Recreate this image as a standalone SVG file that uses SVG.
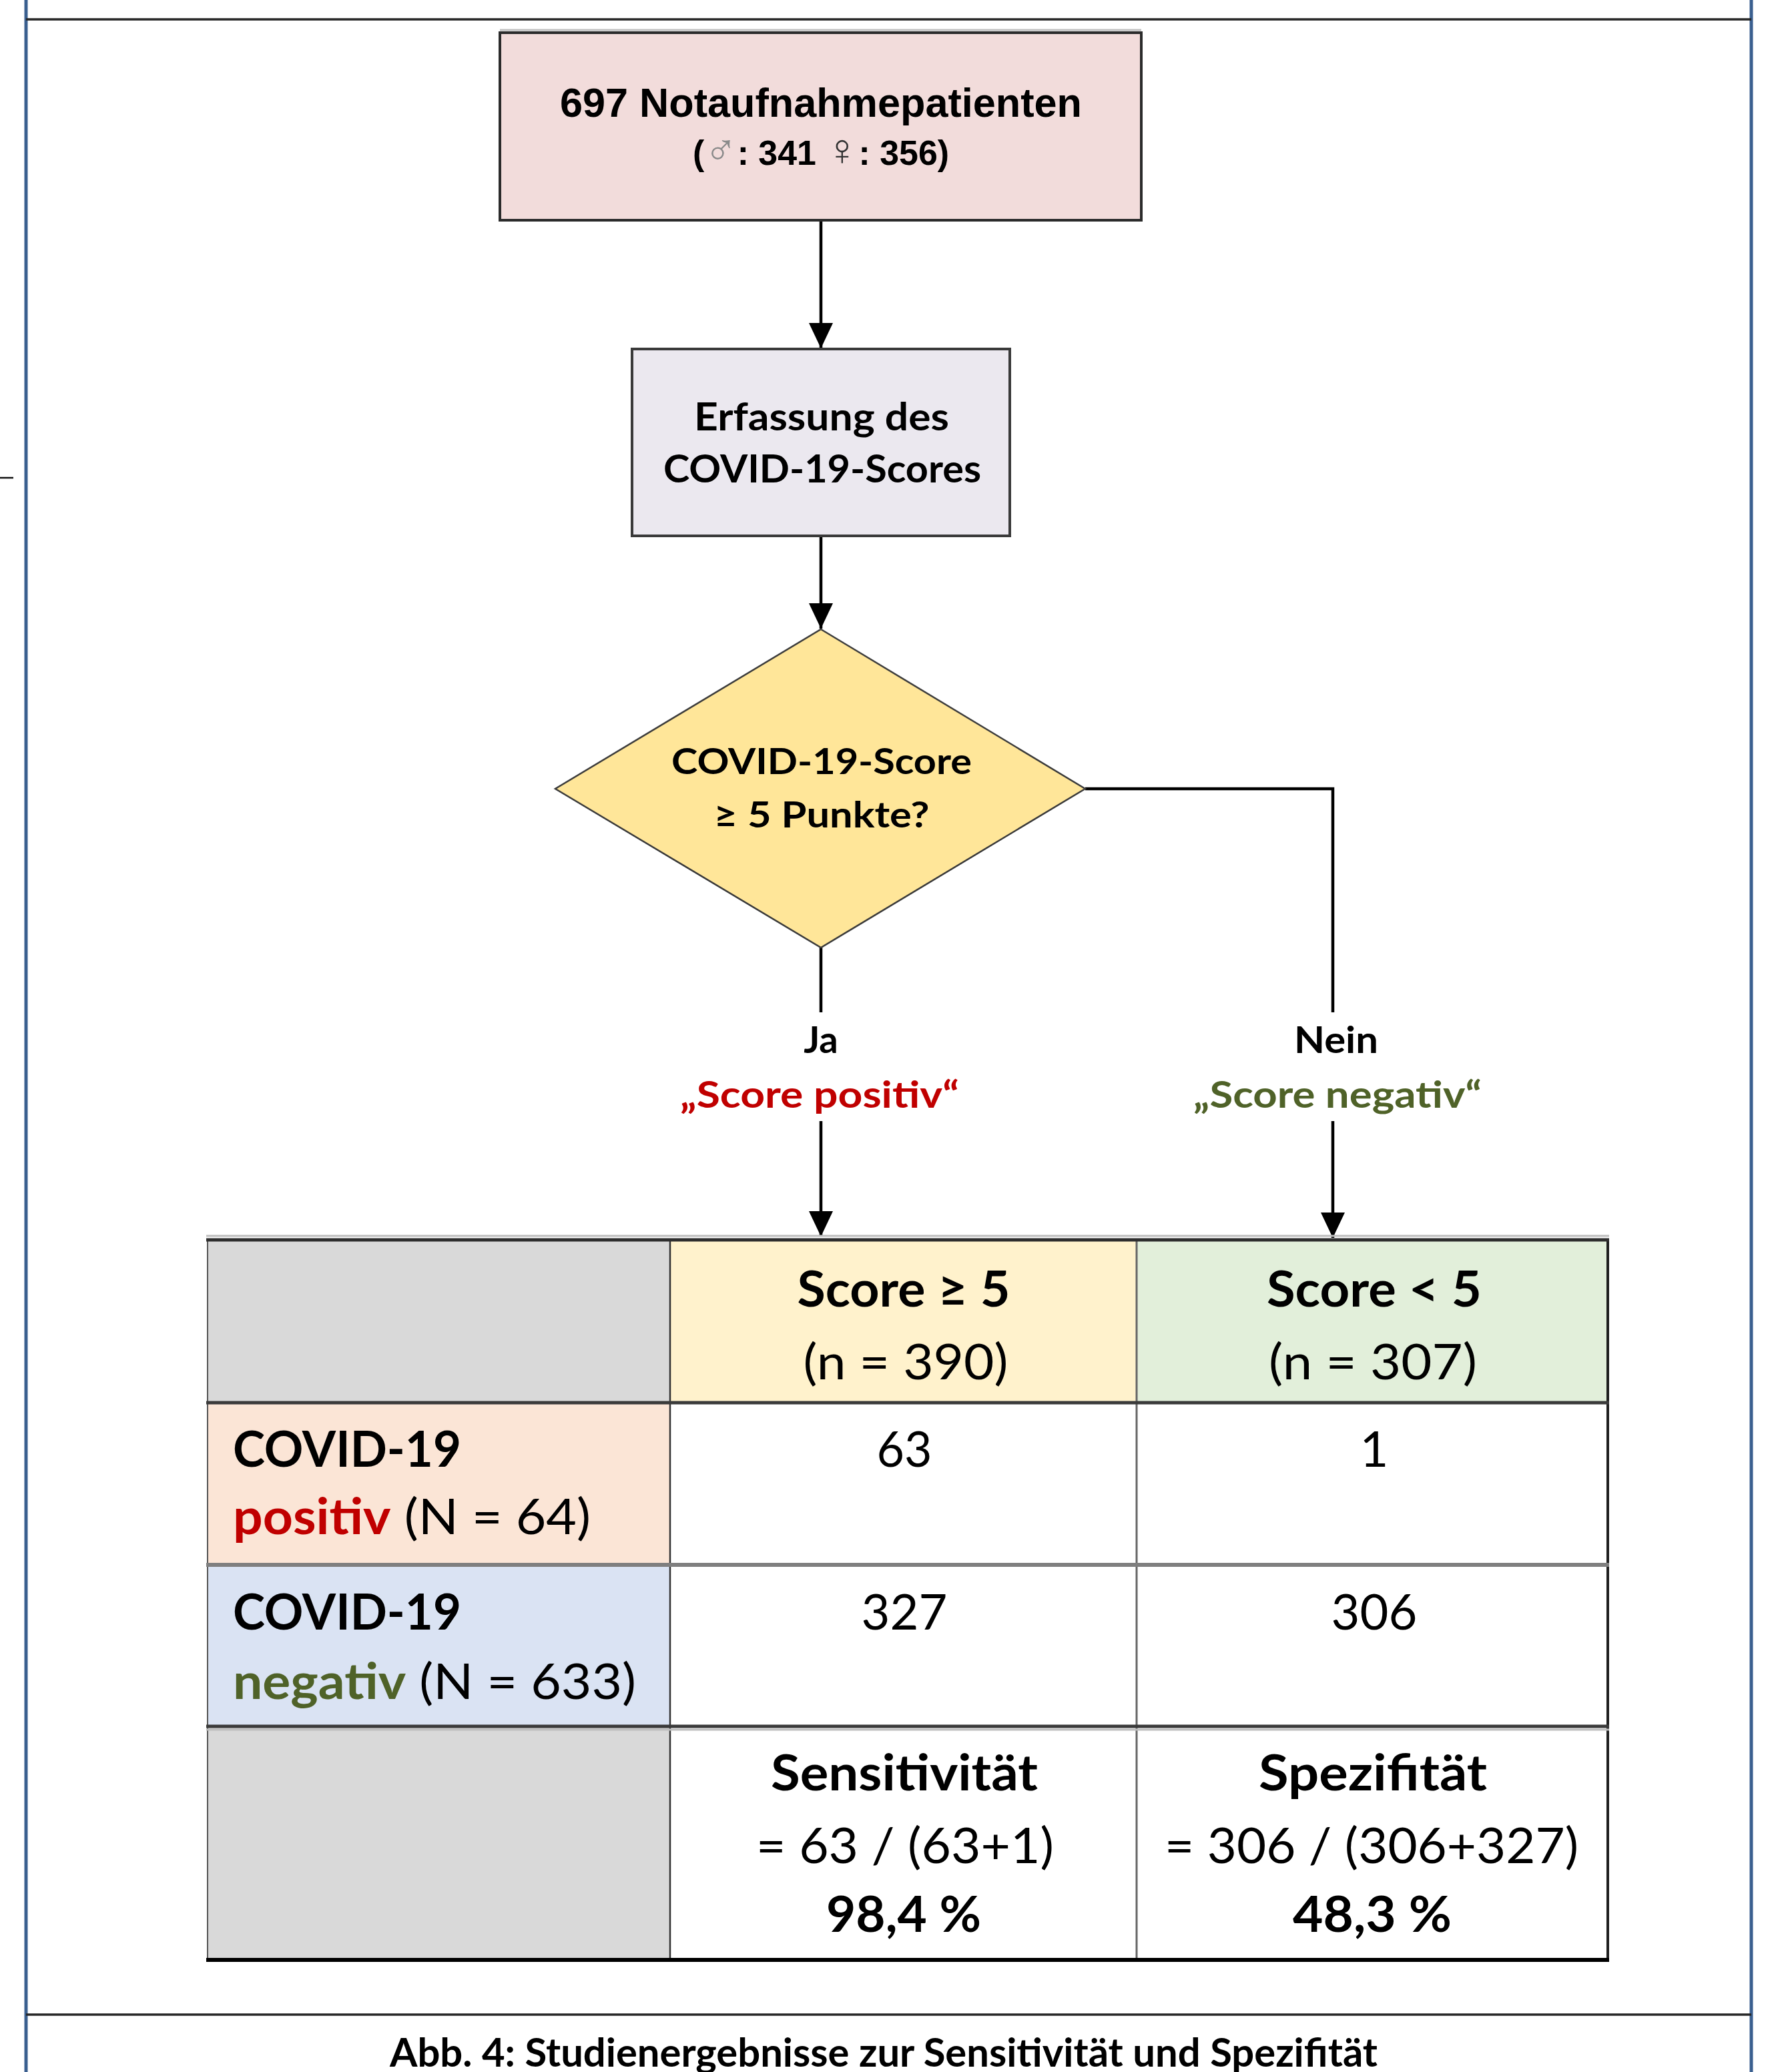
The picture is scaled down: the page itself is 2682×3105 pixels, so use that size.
<svg xmlns="http://www.w3.org/2000/svg" width="2682" height="3105" viewBox="0 0 2682 3105">
<style>
.cal{font-family:Lato,"Open Sans","Noto Sans",sans-serif}
.ari{font-family:"Liberation Sans",Arial,sans-serif}
.b{font-weight:bold}
.r{font-weight:normal}
.conn{fill:none;stroke:#000;stroke-width:4.5}
.tl{text-anchor:middle}
</style>
<defs>
<marker id="ah" markerUnits="userSpaceOnUse" markerWidth="38" markerHeight="36" refX="38" refY="18" orient="auto">
<path d="M0,0 L38,18 L0,36 Z" fill="#000"/>
</marker>
</defs>
<rect x="0" y="0" width="2682" height="3105" fill="#fff"/>
<!-- page frame -->
<g id="frame">
<line x1="39" y1="0" x2="39" y2="3105" stroke="#3A5F8F" stroke-width="5"/>
<line x1="2624" y1="0" x2="2624" y2="3105" stroke="#3A5F8F" stroke-width="5"/>
<line x1="39" y1="29" x2="2624" y2="29" stroke="#262626" stroke-width="3.5"/>
<line x1="39" y1="3019" x2="2624" y2="3019" stroke="#262626" stroke-width="3.5"/>
<line x1="0" y1="716" x2="20" y2="716" stroke="#111" stroke-width="2.5"/>
</g>
<!-- connectors -->
<g id="connectors">
<line class="conn" x1="1230" y1="330" x2="1230" y2="522" marker-end="url(#ah)"/>
<line class="conn" x1="1230" y1="803" x2="1230" y2="942" marker-end="url(#ah)"/>
<path class="conn" d="M1230,1420 V1517"/>
<line class="conn" x1="1230" y1="1680" x2="1230" y2="1853" marker-end="url(#ah)"/>
<path class="conn" d="M1626,1182 H1997 V1517"/>
<line class="conn" x1="1997" y1="1680" x2="1997" y2="1855" marker-end="url(#ah)"/>
<text class="cal b tl" x="1230" y="1578" font-size="56" fill="#000">Ja</text>
<text class="cal b tl" x="1228" y="1660" font-size="56" fill="#C00000" textLength="418" lengthAdjust="spacingAndGlyphs">„Score positiv“</text>
<text class="cal b tl" x="2002" y="1578" font-size="56" fill="#000" textLength="126" lengthAdjust="spacingAndGlyphs">Nein</text>
<text class="cal b tl" x="2004" y="1660" font-size="56" fill="#4F6228" textLength="432" lengthAdjust="spacingAndGlyphs">„Score negativ“</text>
</g>
<!-- node 1 -->
<g id="n1">
<line x1="749" y1="45" x2="1710" y2="45" stroke="#c0c0c0" stroke-width="3"/>
<rect x="749" y="49" width="961" height="281" fill="#F2DCDB" stroke="#2b2b2b" stroke-width="4"/>
<text class="ari b tl" x="1230" y="175" font-size="62" fill="#000" textLength="782" lengthAdjust="spacingAndGlyphs">697 Notaufnahmepatienten</text>
<text class="ari b tl" x="1230" y="247" font-size="52" fill="#000" textLength="384" lengthAdjust="spacingAndGlyphs">(<tspan font-weight="normal" font-size="66" fill="#8a8a8a">♂</tspan>: 341  <tspan font-weight="normal" font-size="66" fill="#333">♀</tspan>: 356)</text>
</g>
<!-- node 2 -->
<g id="n2">
<rect x="947" y="523" width="566" height="280" fill="#EBE8EF" stroke="#3a3a3a" stroke-width="4"/>
<text class="cal b tl" x="1231" y="645" font-size="58" fill="#000" textLength="382" lengthAdjust="spacingAndGlyphs">Erfassung des</text>
<text class="cal b tl" x="1232" y="723" font-size="58" fill="#000" textLength="476" lengthAdjust="spacingAndGlyphs">COVID-19-Scores</text>
</g>
<!-- decision -->
<g id="n3">
<polygon points="1230,943 1626,1182 1230,1420 832,1182" fill="#FFE699" stroke="#3b3b3b" stroke-width="2.5"/>
<text class="cal b tl" x="1231" y="1160" font-size="53" fill="#000" textLength="450" lengthAdjust="spacingAndGlyphs">COVID-19-Score</text>
<text class="cal b tl" x="1231" y="1240" font-size="53" fill="#000" textLength="323" lengthAdjust="spacingAndGlyphs">≥ 5 Punkte?</text>
</g>
<!-- table -->
<g id="table">
<rect x="311" y="1858" width="693" height="244" fill="#D9D9D9"/>
<rect x="1004" y="1858" width="699" height="244" fill="#FFF2CC"/>
<rect x="1703" y="1858" width="706" height="244" fill="#E2EFDA"/>
<rect x="311" y="2102" width="693" height="243" fill="#FBE5D6"/>
<rect x="311" y="2345" width="693" height="242" fill="#DAE3F3"/>
<rect x="311" y="2587" width="693" height="350" fill="#D9D9D9"/>
<rect x="1004" y="2102" width="1405" height="835" fill="#FFFFFF"/>
<line x1="311" y1="1858" x2="311" y2="2937" stroke="#555" stroke-width="2"/>
<line x1="1004" y1="1858" x2="1004" y2="2937" stroke="#333" stroke-width="2.5"/>
<line x1="1703" y1="1858" x2="1703" y2="2937" stroke="#666" stroke-width="3"/>
<line x1="2409" y1="1858" x2="2409" y2="2937" stroke="#1f1f1f" stroke-width="4"/>
<line x1="309" y1="1852" x2="2411" y2="1852" stroke="#bdbdbd" stroke-width="3"/>
<line x1="309" y1="1858" x2="2411" y2="1858" stroke="#2e2e2e" stroke-width="5"/>
<line x1="309" y1="2102" x2="2411" y2="2102" stroke="#3a3a3a" stroke-width="5"/>
<line x1="309" y1="2345" x2="2411" y2="2345" stroke="#7f7f7f" stroke-width="6"/>
<line x1="309" y1="2587" x2="2411" y2="2587" stroke="#3a3a3a" stroke-width="5"/>
<line x1="309" y1="2592" x2="2411" y2="2592" stroke="#bdbdbd" stroke-width="3"/>
<line x1="309" y1="2937" x2="2411" y2="2937" stroke="#000" stroke-width="6"/>
<text class="cal b tl" x="1354" y="1958" font-size="74" textLength="319" lengthAdjust="spacingAndGlyphs">Score ≥ 5</text>
<text class="cal r tl" x="1357" y="2067" font-size="74" textLength="307" lengthAdjust="spacingAndGlyphs">(n = 390)</text>
<text class="cal b tl" x="2059" y="1958" font-size="74" textLength="322" lengthAdjust="spacingAndGlyphs">Score &lt; 5</text>
<text class="cal r tl" x="2057" y="2067" font-size="74" textLength="312" lengthAdjust="spacingAndGlyphs">(n = 307)</text>
<text class="cal b" x="349" y="2198" font-size="74" textLength="342" lengthAdjust="spacingAndGlyphs">COVID-19</text>
<text class="cal r" x="349" y="2299" font-size="74" textLength="536" lengthAdjust="spacingAndGlyphs"><tspan font-weight="bold" fill="#C00000">positiv</tspan> (N = 64)</text>
<text class="cal r tl" x="1355" y="2198" font-size="74" textLength="83" lengthAdjust="spacingAndGlyphs">63</text>
<text class="cal r tl" x="2059" y="2198" font-size="74">1</text>
<text class="cal b" x="349" y="2442" font-size="74" textLength="342" lengthAdjust="spacingAndGlyphs">COVID-19</text>
<text class="cal r" x="349" y="2546" font-size="74" textLength="604" lengthAdjust="spacingAndGlyphs"><tspan font-weight="bold" fill="#4F6228">negativ</tspan> (N = 633)</text>
<text class="cal r tl" x="1355" y="2442" font-size="74">327</text>
<text class="cal r tl" x="2059" y="2442" font-size="74">306</text>
<text class="cal b tl" x="1355" y="2683" font-size="74" textLength="400" lengthAdjust="spacingAndGlyphs">Sensitivität</text>
<text class="cal r tl" x="1356" y="2792" font-size="74" textLength="446" lengthAdjust="spacingAndGlyphs">= 63 / (63+1)</text>
<text class="cal b tl" x="1354" y="2895" font-size="74" textLength="232" lengthAdjust="spacingAndGlyphs">98,4 %</text>
<text class="cal b tl" x="2057" y="2683" font-size="74" textLength="342" lengthAdjust="spacingAndGlyphs">Spezifität</text>
<text class="cal r tl" x="2055" y="2792" font-size="74" textLength="620" lengthAdjust="spacingAndGlyphs">= 306 / (306+327)</text>
<text class="cal b tl" x="2056" y="2895" font-size="74" textLength="238" lengthAdjust="spacingAndGlyphs">48,3 %</text>
</g>
<!-- caption -->
<text id="caption" class="cal b tl" x="1324" y="3097" font-size="60" fill="#000" textLength="1480" lengthAdjust="spacingAndGlyphs">Abb. 4: Studienergebnisse zur Sensitivität und Spezifität</text>
</svg>
